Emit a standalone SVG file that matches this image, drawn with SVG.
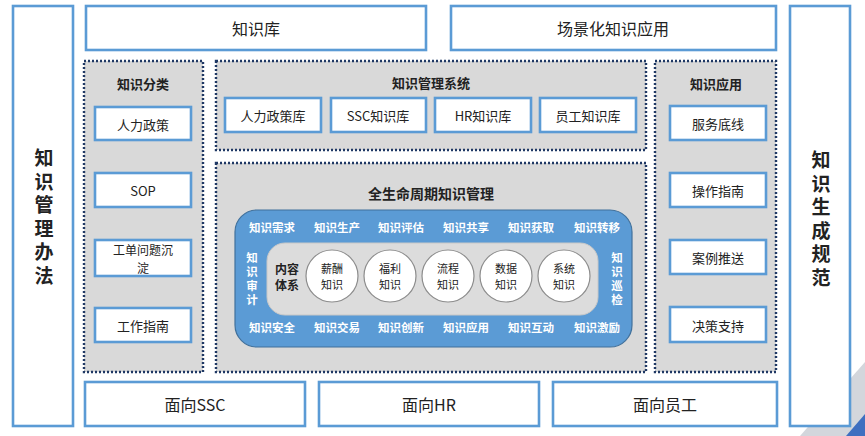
<svg xmlns="http://www.w3.org/2000/svg" width="865" height="436" viewBox="0 0 865 436">
<style>
.box{fill:#fff;stroke:#5b9bd5;stroke-width:2.6}
.panel{fill:#d9d9d9;stroke:#1f3864;stroke-width:2.4;stroke-dasharray:2 2}
.t{font-family:"Noto Sans CJK SC","Liberation Sans",sans-serif;fill:#222;text-anchor:middle;dominant-baseline:central}
.big{font-size:16px}
.mid{font-size:13px}
.bold{font-weight:bold}
.w{fill:#fff;font-weight:bold;font-size:11.5px}
.vert{font-size:19px;font-weight:bold;writing-mode:vertical-rl;letter-spacing:4.5px}
.vw{writing-mode:vertical-rl;letter-spacing:2.5px}
.circ{fill:#fff;stroke:#8c8c8c;stroke-width:1.2}
.sm{font-size:11px}
</style>
<rect width="865" height="436" fill="#fff"/>
<g id="corner-deco">
<polygon points="865,362 865,436 800,436" fill="#d3d6dc"/>
<polygon points="865,414 865,436 846,436" fill="#3f6fc0"/>
</g>
<g id="knowledge-mgmt-method">
<rect class="box" x="13" y="6" width="60" height="420"/>
<text class="t vert" x="44" y="219">知识管理办法</text>
</g>
<g id="knowledge-gen-spec">
<rect class="box" x="790" y="6" width="60" height="420"/>
<text class="t vert" x="821" y="221">知识生成规范</text>
</g>
<g id="kb">
<rect class="box" x="86" y="6" width="340" height="44"/>
<text class="t big" x="256" y="28">知识库</text>
</g>
<g id="scene-app">
<rect class="box" x="451" y="6" width="325" height="44"/>
<text class="t big" x="613" y="28">场景化知识应用</text>
</g>
<g id="classify">
<rect class="panel" x="84" y="61" width="119" height="311"/>
<text class="t mid bold" x="143" y="83">知识分类</text>
<rect class="box" x="95" y="107" width="96" height="33"/>
<text class="t mid" x="143" y="124">人力政策</text>
<rect class="box" x="95" y="173" width="96" height="34"/>
<text class="t mid" x="143" y="190">SOP</text>
<rect class="box" x="95" y="240" width="96" height="36"/>
<text class="t" style="font-size:12px" x="143" y="249">工单问题沉<tspan x="143" dy="17.5">淀</tspan></text>
<rect class="box" x="95" y="308" width="96" height="34"/>
<text class="t mid" x="143" y="325">工作指南</text>
</g>
<g id="app">
<rect class="panel" x="655" y="61" width="121" height="311"/>
<text class="t mid bold" x="716" y="83">知识应用</text>
<rect class="box" x="670" y="106" width="96" height="34"/>
<text class="t mid" x="718" y="123">服务底线</text>
<rect class="box" x="670" y="173" width="96" height="34"/>
<text class="t mid" x="718" y="190">操作指南</text>
<rect class="box" x="670" y="240" width="96" height="34"/>
<text class="t mid" x="718" y="257">案例推送</text>
<rect class="box" x="670" y="307" width="96" height="35"/>
<text class="t mid" x="718" y="325">决策支持</text>
</g>
<g id="kms">
<rect class="panel" x="216" y="61" width="430" height="89"/>
<text class="t mid bold" x="431" y="82">知识管理系统</text>
<rect class="box" x="225" y="98" width="96" height="34"/>
<text class="t mid" x="273" y="115">人力政策库</text>
<rect class="box" x="331" y="98" width="95" height="34"/>
<text class="t mid" x="378" y="115">SSC知识库</text>
<rect class="box" x="435" y="98" width="96" height="34"/>
<text class="t mid" x="483" y="115">HR知识库</text>
<rect class="box" x="540" y="98" width="96" height="34"/>
<text class="t mid" x="588" y="115">员工知识库</text>
</g>
<g id="lifecycle">
<rect class="panel" x="216" y="163" width="430" height="209"/>
<text class="t bold" style="font-size:14px" x="431" y="193">全生命周期知识管理</text>
<rect x="235" y="210" width="397" height="137" rx="22" fill="#5b9bd5" stroke="#41719c" stroke-width="1.2"/>
<text class="t w" x="272" y="227">知识需求</text>
<text class="t w" x="337" y="227">知识生产</text>
<text class="t w" x="401" y="227">知识评估</text>
<text class="t w" x="466" y="227">知识共享</text>
<text class="t w" x="531" y="227">知识获取</text>
<text class="t w" x="597" y="227">知识转移</text>
<text class="t w" x="272" y="327">知识安全</text>
<text class="t w" x="337" y="327">知识交易</text>
<text class="t w" x="401" y="327">知识创新</text>
<text class="t w" x="466" y="327">知识应用</text>
<text class="t w" x="531" y="327">知识互动</text>
<text class="t w" x="597" y="327">知识激励</text>
<text class="t w vw" x="252" y="280">知识审计</text>
<text class="t w vw" x="617" y="280">知识巡检</text>
<rect x="267" y="243" width="331" height="72" rx="18" fill="#dcdcdc" stroke="#c8c8c8" stroke-width="1"/>
<text class="t bold" style="font-size:12px" x="287" y="268">内容<tspan x="287" dy="16">体系</tspan></text>
<circle class="circ" cx="332" cy="276" r="26"/>
<text class="t sm" x="332" y="268">薪酬<tspan x="332" dy="16">知识</tspan></text>
<circle class="circ" cx="390" cy="276" r="26"/>
<text class="t sm" x="390" y="268">福利<tspan x="390" dy="16">知识</tspan></text>
<circle class="circ" cx="448" cy="276" r="26"/>
<text class="t sm" x="448" y="268">流程<tspan x="448" dy="16">知识</tspan></text>
<circle class="circ" cx="506" cy="276" r="26"/>
<text class="t sm" x="506" y="268">数据<tspan x="506" dy="16">知识</tspan></text>
<circle class="circ" cx="564" cy="276" r="26"/>
<text class="t sm" x="564" y="268">系统<tspan x="564" dy="16">知识</tspan></text>
</g>
<g id="for-ssc">
<rect class="box" x="85" y="382" width="220" height="44"/>
<text class="t big" x="195" y="404">面向SSC</text>
</g>
<g id="for-hr">
<rect class="box" x="319" y="382" width="220" height="44"/>
<text class="t big" x="429" y="404">面向HR</text>
</g>
<g id="for-staff">
<rect class="box" x="553" y="382" width="224" height="44"/>
<text class="t big" x="665" y="404">面向员工</text>
</g>
<g id="connectors"></g>
</svg>
